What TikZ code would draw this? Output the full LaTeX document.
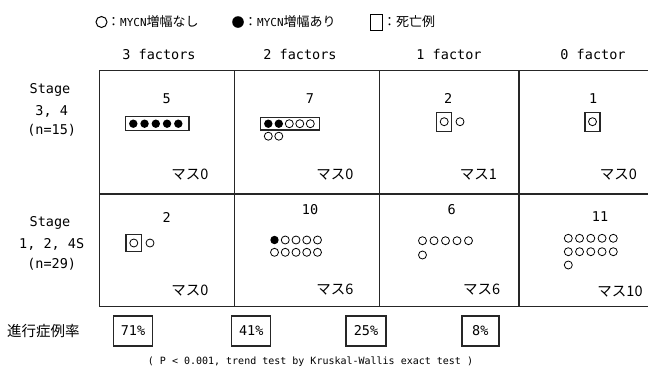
\documentclass[tikz,border=0pt]{standalone}
\usepackage{fontspec}
\setmainfont{DejaVu Sans Mono}
\newfontfamily\jp{Noto Sans CJK JP}
\begin{document}
\begin{tikzpicture}[x=1pt,y=-1pt,
  grid/.style={line width=1.6pt, draw=black!85},
  txt/.style={font=\fontsize{13.5}{15}\selectfont, inner sep=0pt},
  jtxt/.style={font=\jp\fontsize{14.5}{16}\selectfont, inner sep=0pt},
  leg/.style={font=\jp\fontsize{13}{15}\selectfont, inner sep=0pt, anchor=west},
  foot/.style={font=\fontsize{10}{12}\selectfont, inner sep=0pt},
  dbox/.style={line width=1.5pt, draw=black!85},
  pbox/.style={draw=black!85, line width=1.4pt, minimum width=39pt, minimum height=30pt, inner sep=0pt, font=\fontsize{13.5}{15}\selectfont},
  fdot/.style={fill=black},
  odot/.style={draw=black, line width=0.8pt}
]
\useasboundingbox (0,0) rectangle (648,376);
% legend
\draw[odot, line width=1pt] (101.5,22) circle (5.5pt);
\node[leg] (l1) at (107,22) {：{\rmfamily\fontsize{11}{13}\selectfont MYCN}増幅なし};
\fill[fdot] (238,22) circle (5.8pt);
\node[leg] (l2) at (244,22) {：{\rmfamily\fontsize{11}{13}\selectfont MYCN}増幅あり};
\draw[line width=0.8pt] (370,14) rectangle (382,30);
\node[leg] (l3) at (383,22) {：死亡例};
% headers
\node[txt] (h1) at (159,54) {3 factors};
\node[txt] (h2) at (300,54) {2 factors};
\node[txt] (h3) at (449,54) {1 factor};
\node[txt] (h4) at (593,54) {0 factor};
% row labels
\node[txt] (r1a) at (50,90) {Stage};
\node[txt] (r1b) at (51.7,111) {3, 4};
\node[txt] (r1c) at (51.7,130) {(n=15)};
\node[txt] (r2a) at (50,223.3) {Stage};
\node[txt] (r2b) at (51.7,244) {1, 2, 4S};
\node[txt] (r2c) at (51.7,264) {(n=29)};
% table grid
\draw[grid] (648,70.5) -- (99.3,70.5) -- (99.3,306.5) -- (648,306.5);
\draw[grid] (99.3,194) -- (648,194);
\draw[grid] (234.3,70.5) -- (234.3,306.5);
\draw[grid] (379.3,70.5) -- (379.3,306.5);
\draw[grid] (519,70.5) -- (519,306.5);
% row 1 counts
\node[txt] (c11) at (166.7,98.3) {5};
\node[txt] (c12) at (310,98.3) {7};
\node[txt] (c13) at (448.3,98.3) {2};
\node[txt] (c14) at (593.3,98.3) {1};
% row 1 dots
\draw[dbox] (125.7,116.7) rectangle (189,130.7);
\foreach \i in {0,...,4} \fill[fdot] (133.3+11.25*\i,123.7) circle (4.2pt);
\draw[dbox] (260.7,117.3) rectangle (319.3,130);
\foreach \i in {0,1} \fill[fdot] (268.3+10.5*\i,123.7) circle (4.2pt);
\foreach \i in {2,3,4} \draw[odot] (268.3+10.5*\i,123.7) circle (4pt);
\foreach \i in {0,1} \draw[odot] (268.3+10.5*\i,136.2) circle (4pt);
\draw[dbox] (436.7,112.7) rectangle (451.7,131.7);
\draw[odot] (444.2,121.7) circle (4pt);
\draw[odot] (460,121.7) circle (4pt);
\draw[dbox] (585,112.7) rectangle (600,131.7);
\draw[odot] (592.5,121.7) circle (4pt);
% row 1 mass
\node[jtxt] (m11) at (190,175) {マス0};
\node[jtxt] (m12) at (335,175) {マス0};
\node[jtxt] (m13) at (478.3,175) {マス1};
\node[jtxt] (m14) at (618.3,175) {マス0};
% row 2 counts
\node[txt] (c21) at (166.7,217.3) {2};
\node[txt] (c22) at (310,210) {10};
\node[txt] (c23) at (451.7,210) {6};
\node[txt] (c24) at (600,216.7) {11};
% row 2 dots
\draw[dbox] (126,234.3) rectangle (141.7,251.7);
\draw[odot] (133.8,243) circle (4pt);
\draw[odot] (150,243) circle (4pt);
\fill[fdot] (274.5,240) circle (4.2pt);
\foreach \i in {1,...,4} \draw[odot] (274.5+10.75*\i,240) circle (4pt);
\foreach \i in {0,...,4} \draw[odot] (274.5+10.75*\i,252.3) circle (4pt);
\foreach \i in {0,...,4} \draw[odot] (422.5+11.5*\i,240.7) circle (4pt);
\draw[odot] (422.5,255) circle (4pt);
\foreach \i in {0,...,4} \draw[odot] (568.3+11.25*\i,238.3) circle (4pt);
\foreach \i in {0,...,4} \draw[odot] (568.3+11.25*\i,251.7) circle (4pt);
\draw[odot] (568.3,265) circle (4pt);
% row 2 mass
\node[jtxt] (m21) at (190,291) {マス0};
\node[jtxt] (m22) at (335,290) {マス6};
\node[jtxt] (m23) at (481.7,289.3) {マス6};
\node[jtxt] (m24) at (620,291.7) {マス10};
% bottom
\node[jtxt] (rate) at (43.3,331) {進行症例率};
\node[pbox] (p1) at (133,331) {71\%};
\node[pbox] (p2) at (251.2,331) {41\%};
\node[pbox, minimum width=40pt] (p3) at (366,331) {25\%};
\node[pbox, minimum width=37pt] (p4) at (480.3,331) {8\%};
\node[foot] (fn) at (310.5,362) {( P < 0.001, trend test by Kruskal-Wallis exact test )};
\end{tikzpicture}
\end{document}
